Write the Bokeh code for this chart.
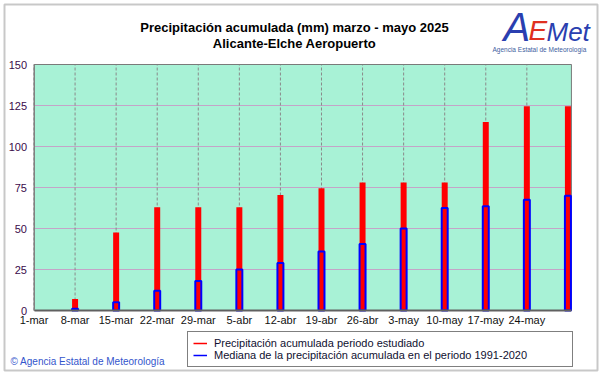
import pandas as pd
from bokeh.plotting import figure
from bokeh.models import (Range1d, FixedTicker, Label, Legend, LegendItem, LinearAxis,
                          BoxAnnotation)
from bokeh.embed import file_html
from bokeh.resources import INLINE

# ---- data ----
inicio = "2025-03-01"
fechas = ["2025-03-08", "2025-03-15", "2025-03-22", "2025-03-29", "2025-04-05",
          "2025-04-12", "2025-04-19", "2025-04-26", "2025-05-03", "2025-05-10",
          "2025-05-17", "2025-05-24", "2025-05-31"]
precip_acumulada = [7, 47.5, 63, 63, 63, 70.5, 74.5, 78, 78, 78, 115, 124.5, 124.5]
mediana_1991_2020 = [1, 5, 12, 18, 25, 29, 36, 40.5, 50, 62.5, 63.5, 67.5, 70]
tick_fechas = ["2025-03-01", "2025-03-08", "2025-03-15", "2025-03-22", "2025-03-29",
               "2025-04-05", "2025-04-12", "2025-04-19", "2025-04-26", "2025-05-03",
               "2025-05-10", "2025-05-17", "2025-05-24"]
tick_labels = ["1-mar", "8-mar", "15-mar", "22-mar", "29-mar", "5-abr", "12-abr",
               "19-abr", "26-abr", "3-may", "10-may", "17-may", "24-may"]
y_ticks = [0, 25, 50, 75, 100, 125, 150]

t0 = pd.Timestamp(inicio)
dias = [(pd.Timestamp(f) - t0).days for f in fechas]
tick_dias = [(pd.Timestamp(f) - t0).days for f in tick_fechas]

# ---- layout (canvas pixels) ----
W, H = 600, 373
x_min, x_max = 0, 91.6          # plotted period (days)
y_min, y_max = 0, 150           # mm
px_day = 41.07 / 7
px_mm = 246 / 150
ox, oy = 33.5, H - 310          # canvas position of origin (from left, from bottom)
xr = Range1d(-ox / px_day, (W - ox) / px_day)
yr = Range1d(-oy / px_mm, (H - oy) / px_mm)

def sx(X):  # page x -> frame screen x
    return X

def sy(Y):  # page y -> frame screen y (from bottom)
    return H - Y

p = figure(width=W, height=H, output_backend="svg", toolbar_location=None,
           x_range=xr, y_range=yr, x_axis_location=None, y_axis_location=None,
           min_border=0, title=None)
p.grid.visible = False
p.background_fill_color = "white"
p.border_fill_color = "white"
p.outline_line_color = None

# outer frame of the image
p.add_layout(BoxAnnotation(left=sx(4), right=sx(597), top=sy(4), bottom=sy(370),
                           left_units="screen", right_units="screen",
                           top_units="screen", bottom_units="screen",
                           fill_color=None, fill_alpha=0,
                           line_color="#4a4a4a", line_width=2, level="underlay"))

# plot area background
p.quad(left=[x_min], right=[x_max], bottom=[y_min], top=[y_max],
       fill_color="#a8f2d6", line_color=None)

# grid lines
p.segment(x0=[x_min] * len(y_ticks), x1=[x_max] * len(y_ticks), y0=y_ticks, y1=y_ticks,
          line_color="#c4a4c8", line_width=1)
p.segment(x0=tick_dias, x1=tick_dias, y0=[y_min] * len(tick_dias), y1=[y_max] * len(tick_dias),
          line_color="#8a8a8a", line_width=1, line_dash="3 2")

# plot area outline
p.quad(left=[x_min], right=[x_max], bottom=[y_min], top=[y_max],
       fill_color=None, line_color="#7a7a7a", line_width=1)

# bars
p.vbar(x=dias, top=precip_acumulada, bottom=0, width=1.02,
       fill_color="#ff0000", line_color=None)
p.vbar(x=dias, top=mediana_1991_2020, bottom=0, width=1.02,
       fill_color=None, line_color="#0000ff", line_width=2)

# axes fixed at the origin
xaxis = LinearAxis(fixed_location=0, bounds=(x_min, x_max),
                   ticker=FixedTicker(ticks=tick_dias),
                   major_label_overrides={d: l for d, l in zip(tick_dias, tick_labels)})
yaxis = LinearAxis(fixed_location=0, bounds=(y_min, y_max),
                   ticker=FixedTicker(ticks=y_ticks))
for ax in (xaxis, yaxis):
    ax.major_tick_line_color = None
    ax.minor_tick_line_color = None
    ax.major_tick_out = 0
    ax.major_tick_in = 0
    ax.major_label_text_font = "Liberation Sans"
    ax.major_label_text_font_size = "11px"
xaxis.axis_line_color = "#606060"
xaxis.axis_line_width = 2
xaxis.major_label_text_color = "#111111"
xaxis.major_label_standoff = 3
yaxis.axis_line_color = "#808080"
yaxis.major_label_text_color = "#3a0a4a"
yaxis.major_label_standoff = 7
p.add_layout(xaxis, "below")
p.add_layout(yaxis, "left")

# legend (line symbols; proxies hold no visible points)
nan = float("nan")
l_red = p.line(x=[nan], y=[nan], line_color="#ff0000", line_width=1.5)
l_blue = p.line(x=[nan], y=[nan], line_color="#0000ff", line_width=1.5)
legend = Legend(items=[
    LegendItem(label="Precipitación acumulada periodo estudiado", renderers=[l_red]),
    LegendItem(label="Mediana de la precipitación acumulada en el periodo 1991-2020", renderers=[l_blue]),
], location=(sx(187), sy(367)), orientation="vertical",
    padding=5, spacing=0, margin=0, glyph_width=14, glyph_height=12,
    label_height=12, label_standoff=7, label_width=353,
    label_text_font="Liberation Sans", label_text_font_size="11px",
    label_text_color="#101030",
    border_line_color="#000000", border_line_width=1,
    background_fill_color="white", background_fill_alpha=1)
p.add_layout(legend, "center")

# titles
for txt, mid in (("Precipitación acumulada (mm) marzo - mayo 2025", 27.2),
                 ("Alicante-Elche Aeropuerto", 43.2)):
    p.add_layout(Label(x=sx(294), y=sy(mid), x_units="screen", y_units="screen",
                       text=txt, text_align="center", text_baseline="middle",
                       text_font="Liberation Sans", text_font_style="bold",
                       text_font_size="13px", text_color="#000000"))

# copyright
p.add_layout(Label(x=sx(10), y=sy(361), x_units="screen", y_units="screen",
                   text="© Agencia Estatal de Meteorología",
                   text_align="left", text_baseline="middle",
                   text_font="Liberation Sans", text_font_size="10px",
                   text_color="#3355cc"))

# logo (text approximation)
p.add_layout(Label(x=sx(503), y=sy(26), x_units="screen", y_units="screen",
                   text="A", text_baseline="middle",
                   text_font="Liberation Sans", text_font_style="italic",
                   text_font_size="40px", text_color="#2a3fb0"))
p.add_layout(Label(x=sx(528), y=sy(30.3), x_units="screen", y_units="screen",
                   text="E", text_baseline="middle",
                   text_font="Liberation Sans", text_font_style="italic",
                   text_font_size="28px", text_color="#e03020"))
p.add_layout(Label(x=sx(546), y=sy(31), x_units="screen", y_units="screen",
                   text="Met", text_baseline="middle",
                   text_font="Liberation Sans", text_font_style="italic",
                   text_font_size="26px", text_color="#2a3fb0"))
p.add_layout(Label(x=sx(492), y=sy(48.5), x_units="screen", y_units="screen",
                   text="Agencia Estatal de Meteorología", text_baseline="middle",
                   text_font="Liberation Sans", text_font_size="6.5px",
                   text_color="#4060a0"))

open("out.html", "w").write(file_html(p, INLINE))
